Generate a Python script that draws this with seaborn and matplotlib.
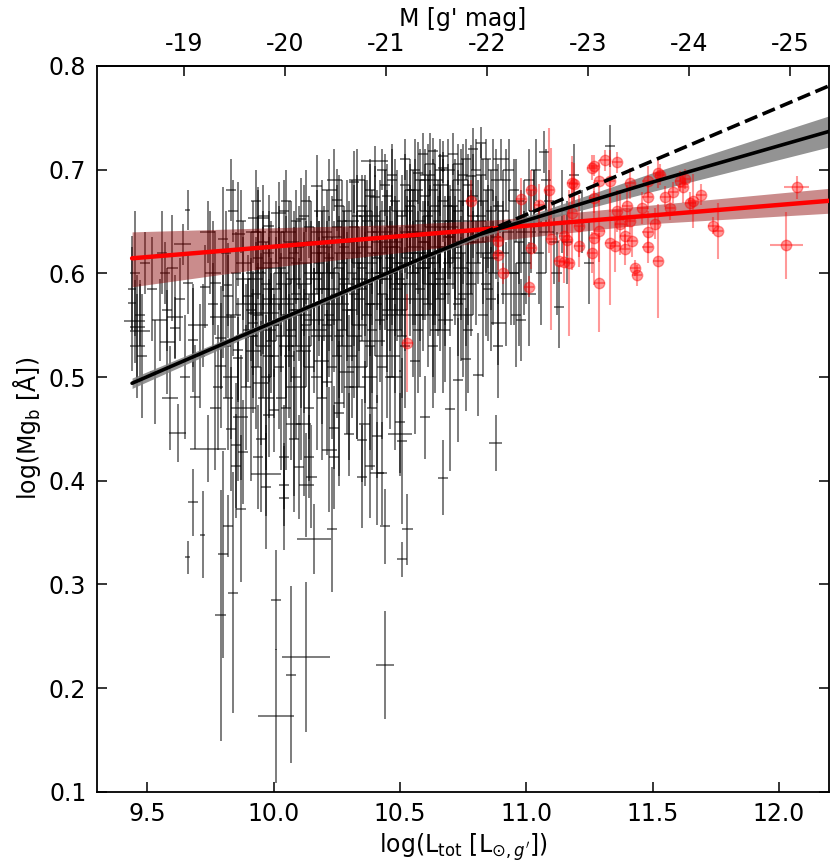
import numpy as np
import matplotlib
matplotlib.use("Agg")
import matplotlib.pyplot as plt
import seaborn as sns

# black sample: log L, log Mgb and their errors
blk_logL = [
    9.44, 9.45, 9.47, 9.47, 9.45, 9.46, 9.48, 9.44, 9.46, 9.49,
    9.52, 9.55, 9.58, 9.58, 9.56, 9.53, 9.59, 9.57, 9.62, 9.68,
    9.66, 9.64, 9.66, 9.66, 9.68, 9.68, 9.61, 9.61, 9.60, 9.65,
    9.63, 9.69, 9.72, 9.74, 9.73, 9.77, 9.76, 9.80, 9.80, 9.79,
    9.79, 9.79, 9.80, 9.75, 9.71, 9.78, 9.74, 9.77, 9.72, 9.76,
    9.84, 9.82, 9.87, 9.85, 9.85, 9.88, 9.82, 9.87, 9.82, 9.86,
    9.82, 9.86, 9.86, 9.88, 9.90, 9.83, 9.81, 9.84, 9.89, 9.85,
    9.83, 9.88, 9.81, 9.89, 9.84, 9.87, 9.83, 9.86, 9.90, 9.88,
    9.94, 9.97, 9.97, 9.98, 9.94, 9.94, 9.98, 9.96, 9.92, 9.98,
    9.95, 9.91, 9.93, 9.99, 9.96, 9.92, 9.95, 9.97, 9.99, 9.91,
    9.93, 9.96, 9.98, 9.92, 9.94, 9.97, 9.99, 9.95, 9.93, 9.96,
    9.98, 9.92, 9.95, 9.91, 9.97, 9.94, 9.99, 9.93, 9.96, 9.98,
    10.01, 10.01, 10.07, 10.04, 10.04, 10.04, 10.00, 10.02, 10.01, 10.06,
    10.03, 10.08, 10.05, 10.09, 10.02, 10.06, 10.07, 10.03, 10.09, 10.05,
    10.00, 10.04, 10.08, 10.02, 10.06, 10.09, 10.01, 10.07, 10.03, 10.05,
    10.08, 10.02, 10.06, 10.04, 10.09, 10.00, 10.07, 10.03, 10.05, 10.08,
    10.13, 10.16, 10.10, 10.14, 10.13, 10.15, 10.17, 10.11, 10.12, 10.18,
    10.15, 10.19, 10.11, 10.17, 10.14, 10.12, 10.18, 10.16, 10.10, 10.19,
    10.13, 10.17, 10.11, 10.15, 10.19, 10.12, 10.16, 10.14, 10.18, 10.10,
    10.12, 10.18, 10.14, 10.16, 10.11, 10.19, 10.13, 10.17, 10.15, 10.13,
    10.23, 10.24, 10.24, 10.24, 10.25, 10.30, 10.21, 10.27, 10.22, 10.28,
    10.26, 10.21, 10.29, 10.23, 10.27, 10.25, 10.22, 10.28, 10.20, 10.26,
    10.29, 10.24, 10.21, 10.27, 10.23, 10.29, 10.25, 10.22, 10.28, 10.26,
    10.20, 10.27, 10.24, 10.22, 10.29, 10.25, 10.21, 10.28, 10.23, 10.26,
    10.35, 10.38, 10.35, 10.32, 10.40, 10.40, 10.31, 10.36, 10.33, 10.38,
    10.34, 10.39, 10.31, 10.37, 10.33, 10.36, 10.39, 10.32, 10.35, 10.38,
    10.30, 10.37, 10.34, 10.32, 10.39, 10.36, 10.31, 10.38, 10.33, 10.35,
    10.37, 10.32, 10.39, 10.34, 10.30, 10.36, 10.33, 10.38, 10.31, 10.35,
    10.41, 10.41, 10.44, 10.44, 10.43, 10.46, 10.42, 10.48, 10.45, 10.47,
    10.43, 10.49, 10.41, 10.46, 10.44, 10.48, 10.42, 10.47, 10.45, 10.49,
    10.40, 10.45, 10.48, 10.42, 10.46, 10.43, 10.49, 10.41, 10.47, 10.44,
    10.47, 10.42, 10.45, 10.49, 10.43, 10.46, 10.40, 10.48, 10.44, 10.41,
    10.53, 10.51, 10.51, 10.50, 10.50, 10.57, 10.60, 10.54, 10.56, 10.52,
    10.58, 10.53, 10.55, 10.59, 10.51, 10.57, 10.54, 10.52, 10.58, 10.56,
    10.50, 10.55, 10.59, 10.52, 10.57, 10.54, 10.51, 10.58, 10.53, 10.56,
    10.57, 10.52, 10.59, 10.54, 10.50, 10.56, 10.53, 10.58, 10.55, 10.51,
    10.67, 10.70, 10.63, 10.67, 10.67, 10.61, 10.64, 10.66, 10.62, 10.68,
    10.65, 10.69, 10.61, 10.63, 10.68, 10.62, 10.66, 10.64, 10.69, 10.60,
    10.64, 10.61, 10.67, 10.65, 10.62, 10.69, 10.63, 10.66, 10.60, 10.68,
    10.62, 10.68, 10.65, 10.63, 10.61, 10.66, 10.69, 10.64, 10.67, 10.60,
    10.76, 10.73, 10.78, 10.74, 10.71, 10.77, 10.72, 10.79, 10.75, 10.70,
    10.72, 10.76, 10.79, 10.71, 10.75, 10.78, 10.73, 10.77, 10.70, 10.74,
    10.78, 10.71, 10.74, 10.77, 10.72, 10.79, 10.75, 10.73, 10.76, 10.70,
    10.82, 10.81, 10.88, 10.89, 10.89, 10.84, 10.86, 10.83, 10.87, 10.85,
    10.81, 10.84, 10.88, 10.82, 10.86, 10.83, 10.89, 10.85, 10.87, 10.80,
    10.98, 10.93, 10.96, 10.91, 10.95, 10.99, 10.92, 10.97, 11.07, 11.03,
    11.05, 11.01, 11.08, 11.13, 11.14, 11.19, 11.16, 11.22, 11.33, 11.25,
    10.91, 10.94, 10.97, 10.92, 10.95, 10.99, 10.93, 10.96, 10.98, 10.90,
    11.02, 11.06, 11.09, 11.01, 11.04, 11.11, 11.03, 11.08, 11.12, 11.00,
    10.83, 10.88, 10.81, 10.86, 10.84, 10.89, 10.82, 10.87, 10.85, 10.80,
    10.62, 10.66, 10.71, 10.75, 10.79, 10.64, 10.69, 10.73, 10.77, 10.60,
    10.33, 10.38, 10.43, 10.47, 10.52, 10.56, 10.36, 10.45, 10.54, 10.59,
    10.42, 10.48, 10.55, 10.61, 10.66, 10.72, 10.77, 10.51, 10.63, 10.74,
    10.05, 10.12, 10.19, 10.26, 10.33, 10.39, 10.46, 10.08, 10.22, 10.36,
]
blk_mgb = [
    .571, .554, .560, .544, .600, .530, .520, .585, .548, .610,
    .585, .555, .565, .534, .620, .505, .480, .600, .446, .379,
    .326, .628, .661, .591, .550, .536, .558, .547, .605, .500,
    .575, .481, .348, .431, .587, .591, .570, .633, .558, .538,
    .511, .270, .329, .620, .520, .490, .640, .470, .550, .600,
    .292, .356, .373, .414, .434, .428, .480, .461, .589, .638,
    .578, .526, .518, .570, .578, .500, .620, .660, .540, .600,
    .450, .610, .530, .490, .560, .650, .680, .470, .545, .595,
    .423, .406, .394, .463, .653, .640, .646, .562, .552, .520,
    .494, .600, .580, .610, .630, .540, .570, .590, .550, .470,
    .510, .530, .620, .640, .560, .500, .575, .440, .670, .605,
    .585, .525, .600, .565, .480, .615, .535, .595, .655, .545,
    .285, .173, .213, .383, .396, .423, .468, .658, .585, .560,
    .600, .620, .540, .580, .510, .640, .490, .570, .610, .530,
    .550, .660, .595, .625, .575, .500, .640, .545, .480, .615,
    .565, .605, .520, .590, .650, .520, .630, .555, .670, .455,
    .230, .344, .413, .423, .396, .404, .684, .652, .560, .600,
    .580, .620, .530, .640, .510, .590, .570, .545, .625, .660,
    .610, .500, .575, .630, .540, .655, .595, .470, .610, .565,
    .525, .585, .645, .555, .490, .515, .670, .620, .600, .550,
    .353, .451, .423, .690, .671, .445, .600, .580, .560, .620,
    .540, .640, .590, .510, .650, .570, .615, .530, .585, .605,
    .660, .555, .495, .610, .635, .565, .520, .680, .595, .475,
    .625, .545, .600, .575, .505, .645, .550, .625, .585, .665,
    .404, .414, .439, .688, .674, .708, .600, .590, .620, .570,
    .550, .640, .520, .610, .655, .535, .600, .580, .665, .500,
    .630, .560, .595, .645, .545, .625, .565, .680, .510, .605,
    .650, .540, .620, .575, .490, .660, .610, .530, .650, .585,
    .407, .443, .356, .222, .407, .600, .620, .590, .640, .560,
    .580, .660, .535, .615, .685, .545, .650, .600, .520, .630,
    .570, .605, .670, .555, .625, .510, .585, .640, .695, .595,
    .645, .595, .565, .610, .630, .575, .655, .500, .660, .615,
    .353, .324, .438, .457, .445, .697, .461, .620, .600, .640,
    .585, .660, .560, .630, .610, .545, .680, .575, .650, .625,
    .595, .670, .605, .530, .640, .590, .655, .560, .615, .700,
    .620, .685, .575, .645, .565, .515, .635, .690, .600, .540,
    .403, .469, .718, .713, .702, .620, .600, .640, .660, .580,
    .625, .610, .570, .680, .555, .645, .595, .690, .635, .605,
    .545, .655, .670, .590, .615, .650, .560, .700, .630, .625,
    .590, .600, .650, .530, .695, .575, .665, .610, .545, .675,
    .517, .497, .694, .620, .650, .640, .600, .610, .670, .590,
    .680, .580, .655, .625, .560, .630, .705, .600, .645, .575,
    .590, .665, .690, .545, .615, .675, .630, .570, .710, .635,
    .726, .502, .436, .552, .530, .640, .660, .620, .600, .680,
    .650, .590, .635, .695, .615, .560, .665, .645, .700, .600,
    .555, .640, .670, .620, .600, .650, .690, .580, .717, .660,
    .620, .690, .640, .568, .660, .695, .630, .650, .723, .610,
    .660, .600, .630, .580, .680, .610, .700, .560, .640, .710,
    .640, .600, .670, .580, .700, .630, .660, .690, .600, .620,
    .670, .690, .630, .575, .710, .620, .655, .640, .585, .700,
    .705, .685, .715, .695, .720, .665, .700, .660, .685, .690,
    .690, .675, .700, .690, .710, .680, .655, .675, .665, .715,
    .600, .625, .640, .610, .645, .625, .650, .590, .600, .605,
    .470, .455, .480, .465, .490, .470, .500, .440, .430, .455,
]
blk_err_logL = [
    .015, .042, .020, .040, .020, .030, .020, .015, .030, .020,
    .02, .03, .02, .03, .02, .02, .03, .02, .033, .02,
    .01, .033, .01, .02, .02, .02, .03, .02, .02, .02,
    .02, .02, .01, .072, .02, .02, .02, .02, .053, .02,
    .02, .02, .02, .02, .02, .02, .03, .02, .02, .03,
    .02, .02, .02, .02, .02, .02, .02, .03, .015, .026,
    .02, .02, .02, .03, .02, .03, .02, .02, .04, .02,
    .02, .03, .02, .02, .03, .02, .02, .03, .02, .03,
    .02, .06, .02, .02, .04, .03, .02, .06, .02, .02,
    .03, .02, .02, .03, .02, .02, .04, .02, .03, .02,
    .02, .03, .02, .03, .02, .02, .03, .02, .02, .03,
    .02, .03, .02, .02, .03, .02, .02, .03, .02, .03,
    .02, .072, .02, .02, .02, .02, .02, .03, .02, .03,
    .03, .02, .04, .02, .02, .03, .02, .05, .02, .03,
    .02, .02, .03, .02, .04, .02, .03, .02, .02, .03,
    .02, .03, .02, .03, .02, .02, .03, .02, .02, .03,
    .095, .069, .02, .02, .03, .02, .02, .02, .03, .02,
    .03, .02, .04, .02, .02, .03, .02, .05, .02, .03,
    .02, .02, .03, .02, .04, .02, .03, .02, .02, .03,
    .03, .02, .02, .04, .02, .03, .02, .02, .03, .02,
    .02, .02, .02, .03, .02, .02, .03, .02, .02, .04,
    .02, .02, .03, .02, .02, .05, .02, .03, .02, .02,
    .02, .03, .02, .02, .04, .02, .02, .03, .02, .02,
    .03, .02, .02, .02, .03, .02, .02, .02, .03, .02,
    .02, .02, .02, .02, .02, .053, .02, .03, .02, .02,
    .03, .02, .02, .04, .02, .02, .03, .02, .02, .03,
    .02, .02, .03, .02, .02, .03, .02, .02, .04, .02,
    .02, .03, .02, .02, .02, .03, .02, .02, .03, .02,
    .028, .02, .02, .036, .02, .02, .03, .02, .02, .04,
    .02, .02, .03, .02, .02, .03, .02, .02, .05, .02,
    .03, .02, .02, .02, .03, .02, .02, .02, .02, .03,
    .02, .03, .02, .02, .04, .02, .02, .03, .02, .02,
    .02, .02, .02, .02, .046, .02, .02, .03, .02, .02,
    .02, .02, .04, .02, .03, .02, .02, .05, .02, .03,
    .02, .02, .03, .02, .02, .03, .02, .02, .02, .02,
    .03, .02, .02, .02, .03, .02, .04, .02, .02, .02,
    .02, .02, .02, .02, .02, .03, .02, .02, .04, .02,
    .03, .02, .02, .02, .03, .02, .02, .03, .02, .02,
    .02, .02, .02, .04, .02, .02, .03, .02, .02, .02,
    .03, .02, .02, .02, .03, .02, .02, .02, .03, .02,
    .02, .02, .02, .02, .03, .02, .02, .03, .02, .02,
    .02, .03, .02, .02, .04, .02, .02, .02, .03, .02,
    .02, .02, .03, .02, .02, .02, .03, .02, .02, .02,
    .02, .02, .026, .03, .02, .02, .02, .03, .02, .02,
    .03, .02, .02, .02, .03, .02, .02, .02, .02, .03,
    .02, .02, .03, .02, .02, .02, .02, .03, .02, .02,
    .02, .02, .03, .02, .02, .02, .02, .02, .02, .02,
    .02, .03, .02, .02, .02, .03, .02, .02, .02, .03,
    .02, .02, .02, .03, .02, .02, .02, .02, .02, .02,
    .02, .02, .03, .02, .02, .02, .02, .03, .02, .02,
    .02, .03, .02, .02, .02, .02, .03, .02, .02, .02,
    .03, .02, .02, .02, .02, .03, .02, .02, .02, .02,
    .02, .02, .02, .03, .02, .02, .02, .02, .02, .03,
    .02, .03, .02, .02, .03, .02, .02, .02, .03, .02,
]
blk_err_mgb = [
    .065, .040, .030, .050, .060, .050, .060, .040, .050, .030,
    .05, .04, .04, .05, .04, .05, .05, .03, .028, .032,
    .016, .020, .019, .030, .040, .050, .040, .030, .051, .060,
    .04, .05, .042, .032, .04, .05, .04, .05, .04, .05,
    .06, .121, .100, .04, .05, .06, .03, .06, .04, .05,
    .116, .030, .071, .050, .060, .050, .050, .060, .040, .050,
    .04, .05, .04, .03, .04, .06, .04, .03, .05, .04,
    .06, .04, .05, .06, .04, .03, .03, .07, .05, .04,
    .05, .04, .06, .04, .03, .04, .03, .04, .05, .06,
    .06, .04, .05, .04, .03, .06, .05, .04, .05, .07,
    .06, .05, .04, .03, .05, .06, .04, .07, .03, .04,
    .05, .06, .04, .05, .07, .04, .05, .04, .03, .05,
    .048, .065, .085, .05, .04, .05, .04, .03, .05, .05,
    .04, .04, .06, .05, .06, .03, .07, .05, .04, .06,
    .05, .03, .05, .04, .05, .06, .03, .05, .07, .04,
    .05, .04, .06, .05, .03, .06, .04, .05, .03, .07,
    .072, .034, .05, .04, .05, .05, .03, .04, .05, .05,
    .05, .04, .06, .04, .07, .05, .05, .06, .04, .03,
    .04, .07, .05, .04, .06, .03, .05, .07, .04, .05,
    .06, .05, .03, .05, .07, .06, .03, .04, .05, .06,
    .06, .04, .05, .03, .03, .04, .05, .05, .06, .04,
    .06, .04, .05, .07, .04, .05, .04, .06, .05, .05,
    .03, .05, .07, .04, .04, .05, .06, .03, .05, .07,
    .04, .06, .05, .05, .06, .04, .06, .04, .05, .03,
    .05, .05, .04, .03, .03, .015, .05, .05, .04, .05,
    .06, .04, .06, .05, .04, .06, .05, .05, .03, .07,
    .04, .05, .05, .04, .06, .04, .05, .03, .07, .05,
    .04, .06, .04, .05, .07, .03, .05, .06, .04, .05,
    .05, .04, .036, .052, .05, .05, .04, .05, .04, .06,
    .05, .04, .06, .05, .03, .06, .04, .05, .06, .04,
    .05, .05, .04, .06, .04, .07, .05, .04, .03, .05,
    .04, .05, .06, .05, .04, .05, .04, .07, .04, .05,
    .034, .017, .08, .05, .04, .03, .04, .05, .05, .04,
    .05, .04, .06, .04, .05, .06, .03, .05, .04, .04,
    .05, .03, .05, .06, .04, .05, .04, .06, .05, .03,
    .04, .03, .05, .04, .06, .07, .04, .03, .05, .06,
    .036, .06, .013, .015, .015, .05, .05, .04, .04, .05,
    .05, .04, .06, .03, .06, .04, .05, .03, .04, .05,
    .06, .04, .04, .05, .05, .04, .06, .03, .04, .05,
    .05, .05, .04, .06, .03, .05, .04, .05, .06, .03,
    .05, .06, .03, .05, .04, .04, .05, .05, .04, .05,
    .03, .05, .04, .04, .06, .05, .02, .05, .04, .06,
    .05, .04, .03, .06, .05, .04, .04, .05, .02, .04,
    .015, .04, .027, .04, .05, .04, .04, .05, .05, .03,
    .04, .05, .04, .03, .05, .06, .04, .04, .03, .05,
    .04, .04, .04, .05, .05, .04, .03, .05, .02, .04,
    .05, .03, .04, .04, .04, .03, .04, .03, .02, .04,
    .04, .05, .04, .05, .03, .05, .03, .05, .04, .02,
    .04, .05, .03, .05, .03, .04, .04, .03, .04, .05,
    .04, .03, .04, .05, .02, .05, .04, .04, .05, .03,
    .03, .03, .02, .03, .02, .04, .03, .04, .03, .03,
    .03, .03, .02, .03, .02, .03, .04, .03, .04, .02,
    .05, .05, .04, .05, .04, .05, .04, .05, .05, .05,
    .06, .07, .06, .07, .05, .06, .05, .07, .06, .06,
]

# red sample
red_logL = [
    12.07, 12.03, 11.74, 11.76, 11.69, 11.66, 11.65, 11.62, 11.61, 11.63,
    11.58, 11.55, 11.57, 11.52, 11.53, 11.52, 11.51, 11.48, 11.48, 11.48,
    11.48, 11.46, 11.44, 11.43, 11.42, 11.41, 11.39, 11.39, 11.37, 11.36,
    11.36, 11.31, 11.27, 11.26, 11.33, 11.29, 11.29, 11.33, 11.35, 11.26,
    11.27, 11.29, 11.19, 11.18, 11.21, 11.17, 11.15, 11.27, 11.41, 11.40,
    11.02, 10.98, 10.78, 11.09, 11.05, 11.18, 11.02, 11.01, 10.91, 10.89,
    10.89, 11.13, 11.16, 11.15, 11.21, 10.53, 11.10,
]
red_mgb = [
    .683, .627, .646, .641, .676, .670, .668, .683, .689, .691,
    .678, .674, .663, .697, .695, .612, .648, .640, .625, .674,
    .689, .663, .598, .605, .631, .650, .623, .636, .648, .660,
    .707, .709, .704, .702, .689, .689, .591, .629, .626, .620,
    .634, .641, .686, .658, .626, .610, .611, .673, .687, .665,
    .680, .672, .670, .680, .666, .687, .624, .587, .600, .618,
    .631, .612, .632, .636, .646, .533, .633,
]
red_err_logL = [
    .05, .066, .02, .02, .02, .02, .02, .02, .02, .02,
    .02, .02, .02, .02, .02, .02, .02, .02, .02, .02,
    .02, .02, .02, .02, .02, .02, .02, .02, .02, .02,
    .02, .02, .02, .02, .02, .02, .02, .02, .02, .02,
    .02, .02, .02, .02, .02, .02, .02, .02, .02, .02,
    .02, .02, .02, .02, .02, .02, .02, .02, .02, .02,
    .02, .02, .02, .02, .02, .02, .02,
]
red_err_mgb = [
    .011, .032, .008, .027, .010, .026, .010, .015, .010, .010,
    .010, .010, .012, .015, .010, .055, .015, .020, .015, .012,
    .015, .015, .010, .008, .015, .012, .015, .012, .030, .020,
    .010, .010, .010, .012, .030, .020, .048, .060, .025, .020,
    .045, .030, .020, .055, .020, .070, .020, .015, .015, .020,
    .020, .020, .020, .060, .020, .020, .020, .010, .010, .015,
    .015, .020, .015, .020, .030, .047, .088,
]

# fitted relations and their confidence bands
fit_logL = [9.44, 12.2]
fit_red = [0.6145, 0.670]
blk_curve_logL = [9.44, 10.0, 10.6, 10.82, 11.0, 11.5, 12.2]
blk_curve_mgb = [0.494, 0.553, 0.616, 0.638, 0.651, 0.688, 0.737]
dash_logL = [10.82, 12.2]
dash_mgb = [0.638, 0.781]

band_logL = [9.44, 10.0, 10.5, 10.9, 11.5, 12.2]
red_band_lo = [0.587, 0.606, 0.620, 0.632, 0.648, 0.658]
red_band_hi = [0.640, 0.644, 0.647, 0.652, 0.666, 0.682]
blk_band_logL = [9.44, 10.0, 10.6, 10.82, 11.0, 11.5, 12.2]
blk_band_lo = [0.489, 0.550, 0.614, 0.635, 0.647, 0.679, 0.722]
blk_band_hi = [0.499, 0.556, 0.618, 0.641, 0.655, 0.697, 0.752]

M_SUN = 5.11
mag_ticks = [-19, -20, -21, -22, -23, -24, -25]

sns.set_style("ticks")
plt.rcParams["font.family"] = ["DejaVu Sans"]
plt.rcParams["axes.unicode_minus"] = False
plt.rcParams["axes.linewidth"] = 1.3
for key in ["text.color", "axes.labelcolor", "axes.edgecolor", "xtick.color", "ytick.color"]:
    plt.rcParams[key] = "black"
FS = 17

fig = plt.figure(figsize=(8.3, 8.67), dpi=100)
ax = fig.add_axes([0.1165, 0.0868, 0.8828, 0.8371])

ax.errorbar(blk_logL, blk_mgb, xerr=blk_err_logL, yerr=blk_err_mgb, fmt="none",
            ecolor="black", elinewidth=1.2, alpha=0.6, zorder=1)
ax.fill_between(band_logL, red_band_lo, red_band_hi, color="darkred", alpha=0.45,
                lw=0, zorder=2)
ax.fill_between(blk_band_logL, blk_band_lo, blk_band_hi, color="gray", alpha=0.85,
                lw=0, zorder=2)
ax.errorbar(red_logL, red_mgb, xerr=red_err_logL, yerr=red_err_mgb, fmt="o",
            color="red", ms=7.5, elinewidth=1.5, alpha=0.4, zorder=3)

sns.lineplot(x=fit_logL, y=fit_red, color="red", lw=3.2, ax=ax, zorder=5)
sns.lineplot(x=blk_curve_logL, y=blk_curve_mgb, color="black", lw=2.6, ax=ax,
             sort=False, zorder=6)
sns.lineplot(x=dash_logL, y=dash_mgb, color="black", lw=2.6, ls="--", ax=ax, zorder=6)

ax.set_xlim(9.3, 12.2)
ax.set_ylim(0.1, 0.8)
ax.set_xticks([9.5, 10.0, 10.5, 11.0, 11.5, 12.0])
ax.set_xticklabels(["9.5", "10.0", "10.5", "11.0", "11.5", "12.0"])
ax.set_yticks([0.1, 0.2, 0.3, 0.4, 0.5, 0.6, 0.7, 0.8])
ax.set_yticklabels(["0.1", "0.2", "0.3", "0.4", "0.5", "0.6", "0.7", "0.8"])
ax.tick_params(direction="in", length=7, width=1.1, labelsize=FS, pad=7.5,
               right=True, top=False)
ax.set_xlabel(r"log(L$_\mathrm{tot}$ [L$_{\odot,g'}$])", fontsize=FS)
ax.set_ylabel(r"log(Mg$_\mathrm{b}$ [Å])", fontsize=FS)

secax = ax.secondary_xaxis("top", functions=(lambda l: M_SUN - 2.5 * l,
                                             lambda m: (M_SUN - m) / 2.5))
secax.set_xticks(mag_ticks)
secax.set_xticklabels([str(m) for m in mag_ticks])
secax.tick_params(direction="in", length=7, width=1.1, labelsize=FS, pad=7.5)
secax.set_xlabel("M [g' mag]", fontsize=FS)

fig.savefig("out.png", dpi=100)
